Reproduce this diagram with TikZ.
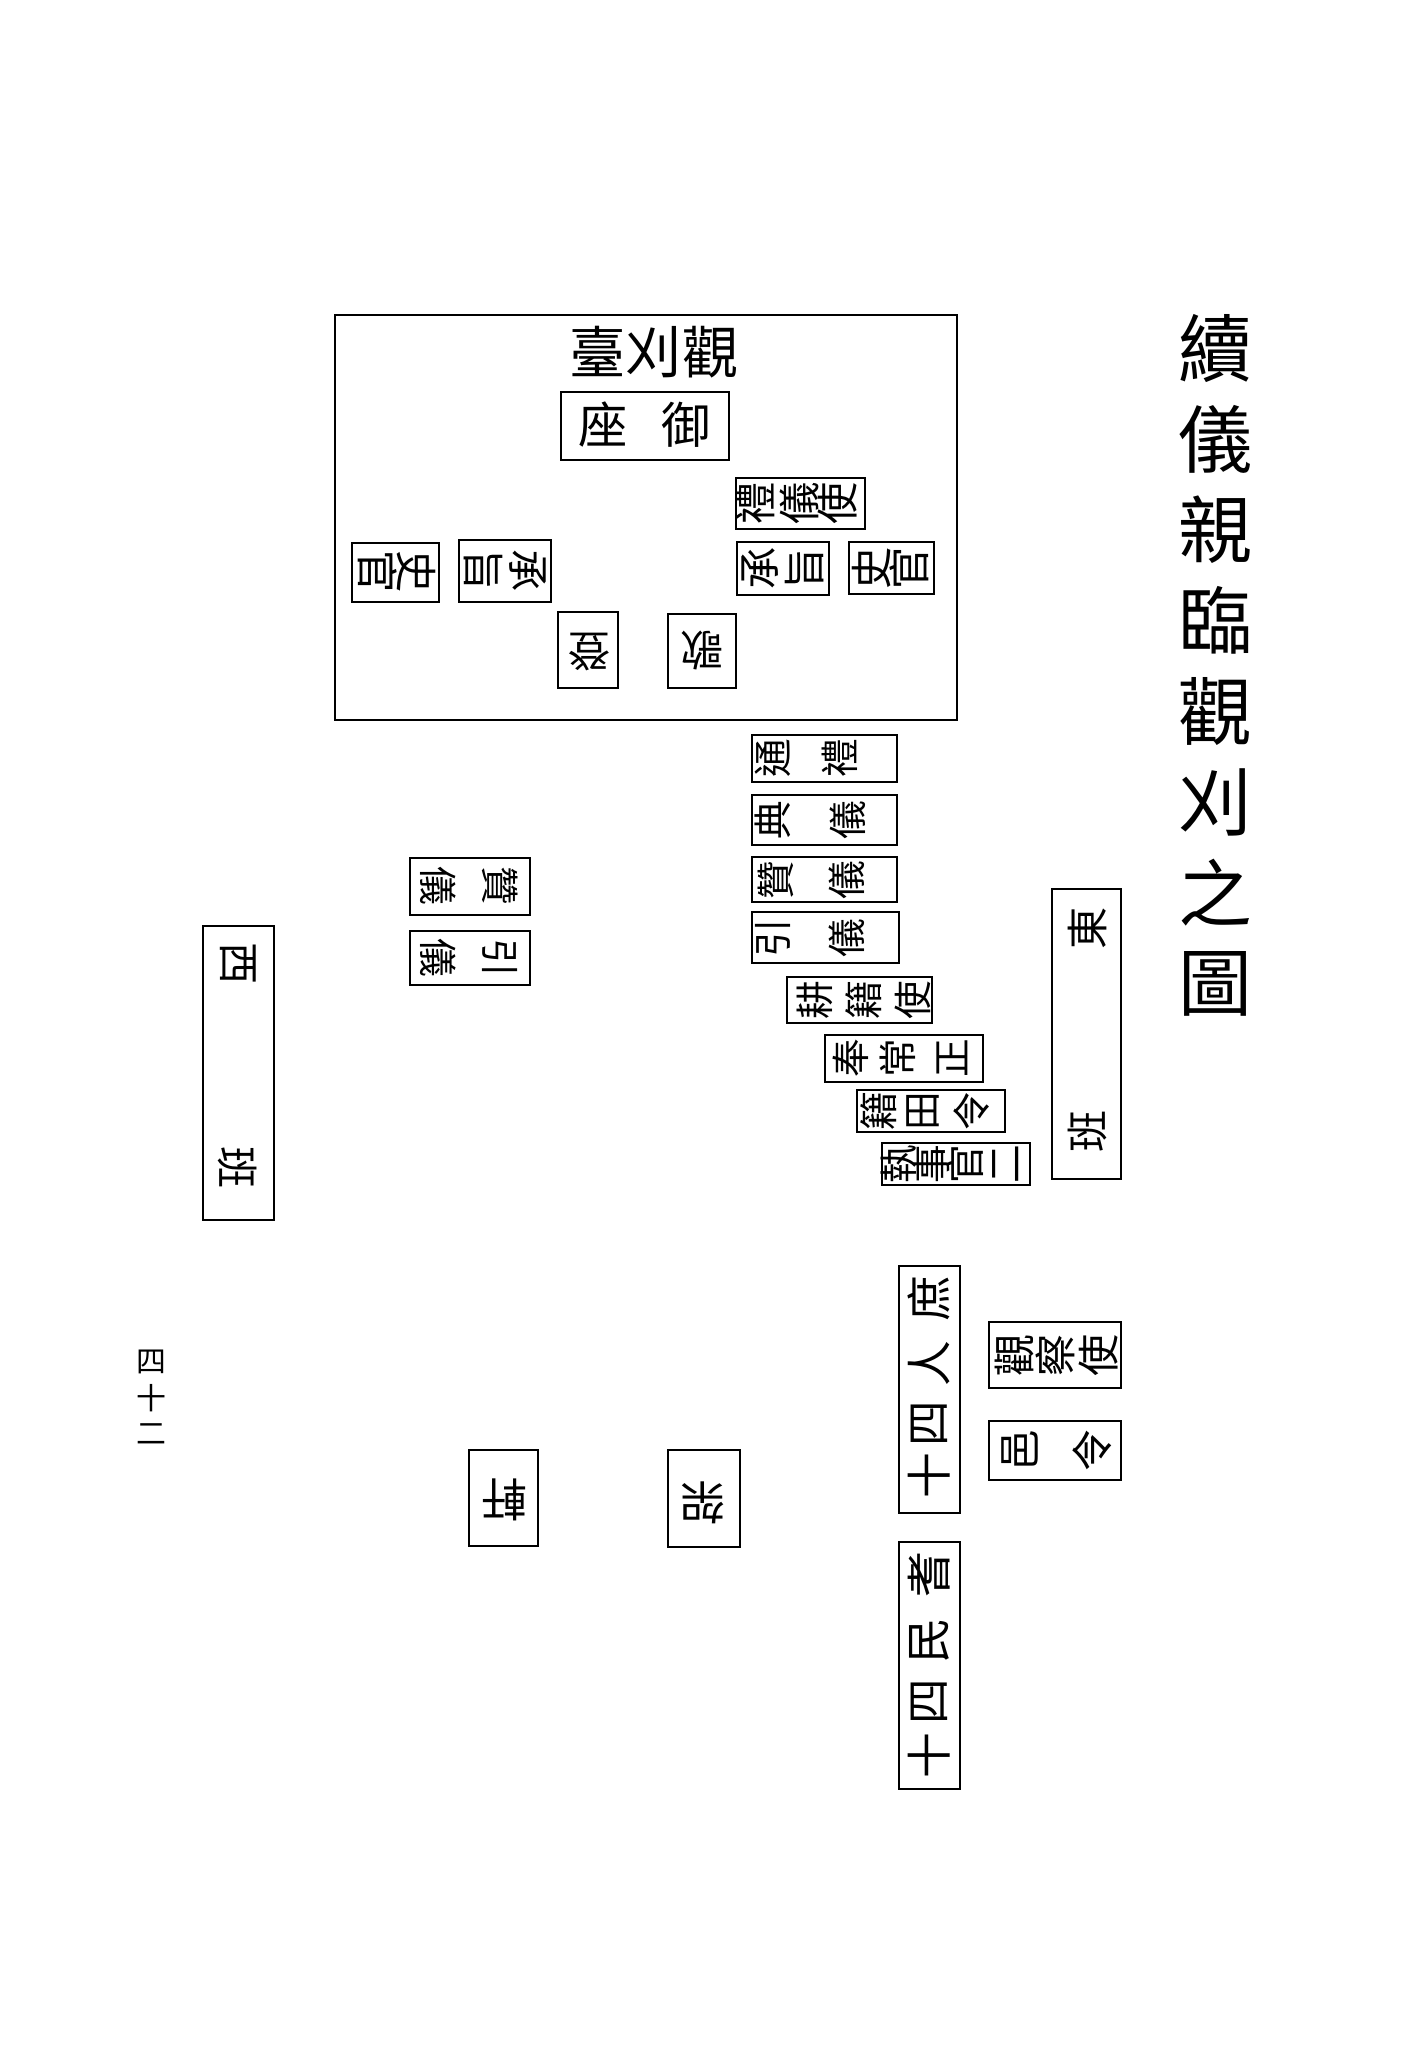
\documentclass[tikz,border=0pt]{standalone}
\usepackage{fontspec}
\newfontfamily\cjk{Noto Sans CJK TC}

\begin{document}
\begin{tikzpicture}[x=0.01cm, y=-0.01cm,
    every node/.style={inner sep=0pt},
    pane/.style={draw, line width=0.65pt},
    zi/.style={font=\cjk\fontsize{11}{11}\selectfont},
    zibig/.style={font=\cjk\fontsize{12}{12}\selectfont},
    eastlab/.style={zi, rotate=90},
    westlab/.style={zibig, rotate=-90},
    southlab/.style={zibig, rotate=180}]
	\fill[white] (0,0) rectangle (1421,2048);
	\useasboundingbox (0,0) rectangle (1421,2048);

	% Title on the right
	\foreach \c [count=\i] in {續,儀,親,臨,觀,刈,之,圖}
	\node[font=\cjk\fontsize{21}{21}\selectfont] (title-\i) at (1215,258+90.7*\i) {\c};

	% Page number on the left
	\foreach \c/\y [count=\i] in {四/1362,十/1398,二/1434}
	\node[font=\cjk\fontsize{8.5}{8.5}\selectfont] (page-\i) at (151,\y) {\c};

	% The terrace
	\draw[pane, line width=0.8pt] (335,315) rectangle (957,720);
	\node[font=\cjk\fontsize{16}{16}\selectfont] (terrace) at (654,352) {臺刈觀};

	% Royal seat
	\draw[pane] (561,392) rectangle (729,460);
	\node[font=\cjk\fontsize{14}{14}\selectfont] (seat-1) at (603,425) {座};
	\node[font=\cjk\fontsize{14}{14}\selectfont] (seat-2) at (686,425) {御};

	% East side on the terrace
	\draw[pane] (736,478) rectangle (865,529);
	\foreach \c/\x [count=\i] in {禮/755,儀/799,使/837}
	\node[eastlab, zibig] (ryeuisa-\i) at (\x,503) {\c};
	\draw[pane] (737,542) rectangle (829,595);
	\foreach \c/\x [count=\i] in {承/760,旨/805}
	\node[eastlab, zibig] (seungji-e\i) at (\x,568) {\c};
	\draw[pane] (849,542) rectangle (934,594);
	\foreach \c/\x [count=\i] in {史/872,官/909}
	\node[eastlab, zibig] (sagwan-e\i) at (\x,568) {\c};

	% West side on the terrace
	\draw[pane] (352,543) rectangle (439,602);
	\foreach \c/\x [count=\i] in {官/378,史/416}
	\node[westlab] (sagwan-w\i) at (\x,572) {\c};
	\draw[pane] (459,540) rectangle (551,602);
	\foreach \c/\x [count=\i] in {旨/483,承/528}
	\node[westlab] (seungji-w\i) at (\x,571) {\c};

	% Music on the terrace
	\draw[pane] (558,612) rectangle (618,688);
	\node[southlab] (deungga-1) at (589,652) {登};
	\draw[pane] (668,614) rectangle (736,688);
	\node[southlab] (deungga-2) at (702,650) {歌};

	% East officials, stepping down
	\draw[pane] (752,735) rectangle (897,782);
	\foreach \c/\x [count=\i] in {通/773,禮/840}
	\node[eastlab] (tongrye-\i) at (\x,758) {\c};
	\draw[pane] (752,795) rectangle (897,845);
	\foreach \c/\x [count=\i] in {典/773,儀/848}
	\node[eastlab] (jeonui-\i) at (\x,820) {\c};
	\draw[pane] (752,857) rectangle (897,902);
	\foreach \c/\x [count=\i] in {贊/776,儀/847}
	\node[eastlab] (chanui-e\i) at (\x,880) {\c};
	\draw[pane] (752,912) rectangle (899,963);
	\foreach \c/\x [count=\i] in {引/773,儀/847}
	\node[eastlab] (inui-e\i) at (\x,938) {\c};
	\draw[pane] (787,977) rectangle (932,1023);
	\foreach \c/\x [count=\i] in {耕/815,籍/864,使/913}
	\node[eastlab] (gyeongjeok-\i) at (\x,1000) {\c};
	\draw[pane] (825,1035) rectangle (983,1082);
	\foreach \c/\x [count=\i] in {奉/851,常/898,正/952}
	\node[eastlab] (bongsang-\i) at (\x,1058) {\c};
	\draw[pane] (857,1090) rectangle (1005,1132);
	\foreach \c/\x [count=\i] in {籍/879,田/923,令/972}
	\node[eastlab] (jeokjeon-\i) at (\x,1111) {\c};
	\draw[pane] (882,1143) rectangle (1030,1185);
	\foreach \c/\x [count=\i] in {執/899,事/932,官/966,二/1006}
	\node[eastlab] (jipsa-\i) at (\x,1164) {\c};

	% West officials
	\draw[pane] (410,858) rectangle (530,915);
	\foreach \c/\x [count=\i] in {儀/438,贊/500}
	\node[westlab, zi] (chanui-w\i) at (\x,886) {\c};
	\draw[pane] (410,931) rectangle (530,985);
	\foreach \c/\x [count=\i] in {儀/438,引/500}
	\node[westlab, zi] (inui-w\i) at (\x,958) {\c};

	% The two ranks
	\draw[pane] (203,926) rectangle (274,1220);
	\node[westlab] (seoban-1) at (238,964) {西};
	\node[westlab] (seoban-2) at (238,1168) {班};
	\draw[pane] (1052,889) rectangle (1121,1179);
	\node[eastlab, zibig] (dongban-1) at (1087,928) {東};
	\node[eastlab, zibig] (dongban-2) at (1087,1131) {班};

	% Commoners and elders
	\draw[pane] (899,1266) rectangle (960,1513);
	\foreach \c/\y [count=\i] in {庶/1299,人/1364,四/1424,十/1476}
	\node[eastlab, font=\cjk\fontsize{13}{13}\selectfont] (seoin-\i) at (929,\y) {\c};
	\draw[pane] (899,1542) rectangle (960,1789);
	\foreach \c/\y [count=\i] in {耆/1575,民/1641,四/1702,十/1756}
	\node[eastlab, font=\cjk\fontsize{13}{13}\selectfont] (gimin-\i) at (929,\y) {\c};

	% Local officials
	\draw[pane] (989,1322) rectangle (1121,1388);
	\foreach \c/\x [count=\i] in {觀/1014,察/1055,使/1098}
	\node[eastlab, zibig] (gwanchal-\i) at (\x,1355) {\c};
	\draw[pane] (989,1421) rectangle (1121,1480);
	\foreach \c/\x [count=\i] in {邑/1020,令/1092}
	\node[eastlab, zibig] (eupryeong-\i) at (\x,1450) {\c};

	% Music in the court
	\draw[pane] (469,1450) rectangle (538,1546);
	\node[southlab, font=\cjk\fontsize{13}{13}\selectfont] (heonga-1) at (505,1500) {軒};
	\draw[pane] (668,1450) rectangle (740,1547);
	\node[southlab, font=\cjk\fontsize{13}{13}\selectfont] (heonga-2) at (703,1503) {架};
\end{tikzpicture}
\end{document}
